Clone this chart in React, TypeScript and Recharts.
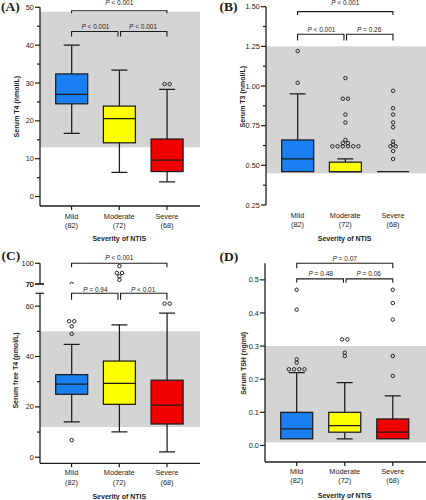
import React from 'react';
import { ComposedChart, Bar, XAxis, YAxis, ReferenceArea, ReferenceLine } from 'recharts';

const FONT = '"Liberation Sans", Arial, Helvetica, sans-serif';
const SERIF = '"Liberation Serif", "Times New Roman", serif';
const INK = '#1c1c1c';
const BAND = '#d4d4d4';

// ---- shared categories ----
const categories = ['Mild', 'Moderate', 'Severe'];
const groupSizes = ['(82)', '(72)', '(68)'];
const boxFills = ['#1a7ff2', '#ffff00', '#f20000'];

// ---- (A) Serum T4 (nmol/L) ----
const t4Low = [16.7, 6.4, 3.9];
const t4Q1 = [24.5, 14.2, 6.6];
const t4Median = [27.0, 20.6, 9.6];
const t4Q3 = [32.4, 23.9, 15.2];
const t4High = [40.0, 33.4, 28.3];
const t4Outliers = [[], [], [29.7, 29.7]];
const t4Band = [13, 48.8];
const t4Major = [0, 10, 20, 30, 40, 50];
const t4Minor = [5, 15, 25, 35, 45];

// ---- (B) Serum T3 (nmol/L) ----
const t3Low = [0.46, 0.46, 0.46];
const t3Q1 = [0.46, 0.46, 0.46];
const t3Median = [0.54, 0.46, 0.46];
const t3Q3 = [0.66, 0.52, 0.46];
const t3High = [0.95, 0.54, 0.46];
const t3Outliers = [
  [1.02, 1.22],
  [0.62, 0.62, 0.62, 0.62, 0.62, 0.62, 0.64, 0.64, 0.66, 0.77, 0.82, 0.92, 0.92, 1.05],
  [0.54, 0.59, 0.62, 0.62, 0.63, 0.65, 0.74, 0.77, 0.82, 0.86, 0.97],
];
const t3Band = [0.45, 1.25];
const t3Major = [0.25, 0.5, 0.75, 1.0, 1.25, 1.5];
const t3Minor = [0.375, 0.625, 0.875, 1.125, 1.375];

// ---- (C) Serum free T4 (pmol/L) ----
const ft4Low = [14.0, 10.1, 2.1];
const ft4Q1 = [25.0, 21.0, 13.2];
const ft4Median = [29.0, 29.3, 20.7];
const ft4Q3 = [32.8, 38.2, 30.6];
const ft4High = [44.8, 52.6, 57.2];
const ft4Outliers = [[6.8, 49, 52, 54, 54, 70], [76, 81, 86, 86, 96], [61, 61]];
const ft4Band = [12, 50];
const ft4MajorLow = [0, 20, 40, 60];
const ft4MinorLow = [10, 30, 50];
const ft4MajorHigh = [70, 100];
const ft4Break = 65.1;

// ---- (D) Serum TSH (ng/ml) ----
const tshLow = [0.02, 0.02, 0.02];
const tshQ1 = [0.02, 0.04, 0.02];
const tshMedian = [0.05, 0.06, 0.04];
const tshQ3 = [0.1, 0.1, 0.08];
const tshHigh = [0.22, 0.19, 0.15];
const tshOutliers = [
  [0.23, 0.23, 0.23, 0.23, 0.25, 0.26, 0.41, 0.47],
  [0.27, 0.28, 0.32, 0.32],
  [0.21, 0.27, 0.38, 0.43, 0.47],
];
const tshBand = [0.01, 0.3];
const tshMajor = [0, 0.1, 0.2, 0.3, 0.4, 0.5];

// ---- significance brackets: [from, to, level, text] ----
const t4Brackets = [
  ['Mild', 'Severe', 49.1, ' < 0.001'],
  ['Mild', 'Moderate', 43.6, ' < 0.001'],
  ['Moderate', 'Severe', 43.6, ' < 0.001'],
];
const t3Brackets = [
  ['Mild', 'Severe', 1.469, ' < 0.001'],
  ['Mild', 'Moderate', 1.326, ' < 0.001'],
  ['Moderate', 'Severe', 1.326, ' = 0.26'],
];
const ft4BracketsHigh = [['Mild', 'Severe', 100, ' < 0.001']];
const ft4BracketsLow = [
  ['Mild', 'Moderate', 65.1, ' = 0.94'],
  ['Moderate', 'Severe', 65.1, ' < 0.01'],
];
const tshBrackets = [
  ['Mild', 'Severe', 0.55, ' = 0.07'],
  ['Mild', 'Moderate', 0.503, ' = 0.48'],
  ['Moderate', 'Severe', 0.503, ' = 0.06'],
];

type Row = {
  name: string;
  frame: [number, number];
  fill: string;
  hasBox: boolean;
  low: number;
  q1: number;
  median: number;
  q3: number;
  high: number;
  outliers: number[];
};

function buildRows(
  low: number[], q1: number[], median: number[], q3: number[], high: number[],
  outliers: number[][], domain: [number, number], hasBox: boolean,
): Row[] {
  return categories.map((name, i) => ({
    name,
    frame: domain,
    fill: boxFills[i],
    hasBox,
    low: low[i],
    q1: q1[i],
    median: median[i],
    q3: q3[i],
    high: high[i],
    outliers: outliers[i].filter((v) => v >= domain[0] && v <= domain[1]),
  }));
}

const SPACING = 5.2;
const SW = 1.25;

function BoxShape(props: any) {
  const { x, y, width, height, payload } = props;
  if (!payload || !Number.isFinite(y) || !Number.isFinite(height)) return null;
  const [lo, hi] = payload.frame;
  const py = (v: number) => y + ((hi - v) / (hi - lo)) * height;
  const cx = x + width / 2;
  const cap = width / 4;
  const parts: any[] = [];
  if (payload.hasBox) {
    if (payload.high > payload.q3) {
      parts.push(<line key="wh" x1={cx} x2={cx} y1={py(payload.q3)} y2={py(payload.high)} stroke={INK} strokeWidth={SW} />);
      parts.push(<line key="ch" x1={cx - cap} x2={cx + cap} y1={py(payload.high)} y2={py(payload.high)} stroke={INK} strokeWidth={SW} />);
    }
    if (payload.low < payload.q1) {
      parts.push(<line key="wl" x1={cx} x2={cx} y1={py(payload.q1)} y2={py(payload.low)} stroke={INK} strokeWidth={SW} />);
      parts.push(<line key="cl" x1={cx - cap} x2={cx + cap} y1={py(payload.low)} y2={py(payload.low)} stroke={INK} strokeWidth={SW} />);
    }
    if (payload.q3 > payload.q1) {
      parts.push(
        <rect key="box" x={x} y={py(payload.q3)} width={width} height={py(payload.q1) - py(payload.q3)}
          fill={payload.fill} stroke={INK} strokeWidth={SW} />,
      );
    }
    parts.push(<line key="med" x1={x} x2={x + width} y1={py(payload.median)} y2={py(payload.median)} stroke={INK} strokeWidth={SW} />);
  }
  const counts = new Map<number, number>();
  (payload.outliers as number[]).forEach((v) => counts.set(v, (counts.get(v) || 0) + 1));
  Array.from(counts.entries()).forEach(([v, n]) => {
    for (let i = 0; i < n; i++) {
      const off = (i - (n - 1) / 2) * SPACING;
      parts.push(<circle key={`o${v}-${i}`} cx={cx + off} cy={py(v)} r={1.75} fill="none" stroke={INK} strokeWidth={0.95} />);
    }
  });
  return <g>{parts}</g>;
}

function makeBracket(text: string, drop: number, gap: number, insetL: number, insetR: number) {
  return (p: any) => {
    const { x1, y1, x2 } = p;
    if (!Number.isFinite(x1) || !Number.isFinite(y1)) return <g />;
    const a = x1 + insetL;
    const b = x2 - insetR;
    return (
      <g>
        <path d={`M${a},${y1 + drop}V${y1}H${b}V${y1 + drop}`} fill="none" stroke={INK} strokeWidth={1.1} />
        <text x={(x1 + x2) / 2} y={y1 - gap} textAnchor="middle" fontSize={6.5} fontFamily={FONT} fill={INK}>
          <tspan fontStyle="italic">P</tspan>
          {text}
        </text>
      </g>
    );
  };
}

function makeYTick(major: number[], fmt: (v: number) => string, caps: number[]) {
  return (props: any) => {
    const { x, y, payload } = props;
    const v = payload.value as number;
    const isMajor = major.some((m) => Math.abs(m - v) < 1e-9);
    const isCap = caps.some((m) => Math.abs(m - v) < 1e-9);
    const len = isMajor ? 5 : isCap ? 4.5 : 3;
    return (
      <g>
        <line x1={x - len} x2={isCap ? x + 4 : x} y1={y} y2={y} stroke={INK} strokeWidth={1.2} />
        {isMajor && (
          <text x={x - len - 1.2} y={y} dy="0.35em" textAnchor="end" fontSize={7.3} fontFamily={FONT} fill={INK}>
            {fmt(v)}
          </text>
        )}
      </g>
    );
  };
}

function makeXTick(dy1: number, dy2: number) {
  return (props: any) => {
    const { x, y, payload } = props;
    const idx = categories.indexOf(payload.value);
    return (
      <text x={x} y={y} textAnchor="middle" fontSize={7.3} fontFamily={FONT} fill={INK}>
        <tspan x={x} dy={dy1}>{payload.value}</tspan>
        <tspan x={x} dy={dy2 - dy1}>{groupSizes[idx]}</tspan>
      </text>
    );
  };
}

type PanelProps = {
  left: number; top: number; width: number; height: number;
  margin: { top: number; right: number; bottom: number; left: number };
  yWidth: number; xHeight: number;
  domain: [number, number];
  major: number[]; minor: number[]; caps?: number[];
  fmt: (v: number) => string;
  rows: Row[];
  band?: number[];
  brackets: any[][];
  drops: [number, number]; gaps: [number, number];
  xMode: 'line' | 'labels' | 'hidden';
  xDy: [number, number];
};

function BoxPanel(p: PanelProps) {
  const caps = p.caps || [];
  const ticks = [...p.major, ...p.minor, ...caps].sort((a, b) => a - b);
  return (
    <div style={{ position: 'absolute', left: p.left, top: p.top, width: p.width, height: p.height }}>
      <ComposedChart width={p.width} height={p.height} data={p.rows} margin={p.margin}>
        <XAxis
          dataKey="name"
          type="category"
          padding={{ left: 7.7, right: 9.2 }}
          hide={p.xMode === 'hidden'}
          height={p.xHeight}
          interval={0}
          tickSize={4}
          tickMargin={0}
          axisLine={p.xMode === 'line' ? { stroke: INK, strokeWidth: 1.3 } : false}
          tickLine={p.xMode === 'line' ? { stroke: INK, strokeWidth: 1.2 } : false}
          tick={makeXTick(p.xDy[0], p.xDy[1])}
        />
        <XAxis xAxisId="full" type="number" domain={[0, 1]} hide allowDataOverflow />
        <YAxis
          type="number"
          domain={p.domain}
          ticks={ticks}
          interval={0}
          width={p.yWidth}
          tickSize={0}
          tickMargin={0}
          tickLine={false}
          axisLine={{ stroke: INK, strokeWidth: 1.3 }}
          tick={makeYTick(p.major, p.fmt, caps)}
          allowDataOverflow
        />
        {p.band && (
          <ReferenceArea xAxisId="full" y1={p.band[0]} y2={p.band[1]}
            fill={BAND} fillOpacity={1} stroke="none" ifOverflow="visible" />
        )}
        <Bar dataKey="frame" barSize={32} shape={BoxShape} isAnimationActive={false} />
        {p.brackets.map((b, i) => {
          const [from, to, level, text] = b;
          const isTop = from === 'Mild' && to === 'Severe';
          const drop = isTop ? p.drops[0] : p.drops[1];
          const gap = isTop ? p.gaps[0] : p.gaps[1];
          const insetL = from === 'Moderate' ? 1.3 : 0;
          const insetR = to === 'Moderate' ? 1.3 : 0;
          return (
            <ReferenceLine
              key={i}
              segment={[{ x: from, y: level }, { x: to, y: level }]}
              ifOverflow="visible"
              shape={makeBracket(text, drop, gap, insetL, insetR)}
            />
          );
        })}
      </ComposedChart>
    </div>
  );
}

const domA: [number, number] = [-2.5, 50];
const domB: [number, number] = [0.25, 1.5];
const domCHigh: [number, number] = [70, 100];
const domCLow: [number, number] = [-2.4, ft4Break];
const domD: [number, number] = [-0.05, 0.55];

const rowsA = buildRows(t4Low, t4Q1, t4Median, t4Q3, t4High, t4Outliers, domA, true);
const rowsB = buildRows(t3Low, t3Q1, t3Median, t3Q3, t3High, t3Outliers, domB, true);
const rowsCHigh = buildRows(ft4Low, ft4Q1, ft4Median, ft4Q3, ft4High, ft4Outliers, domCHigh, false);
const rowsCLow = buildRows(ft4Low, ft4Q1, ft4Median, ft4Q3, ft4High, ft4Outliers, domCLow, true);
const rowsD = buildRows(tshLow, tshQ1, tshMedian, tshQ3, tshHigh, tshOutliers, domD, true);

function Title({ x, y, text, rotate }: { x: number; y: number; text: string; rotate?: boolean }) {
  return (
    <text
      x={x}
      y={y}
      textAnchor="middle"
      dominantBaseline="central"
      fontSize={7}
      fontWeight="bold"
      fontFamily={FONT}
      fill={INK}
      transform={rotate ? `rotate(-90 ${x} ${y})` : undefined}
    >
      {text}
    </text>
  );
}

export default function App() {
  return (
    <div style={{ position: 'absolute', left: 0, top: 0, width: 426, height: 500, background: '#fff', overflow: 'hidden' }}>
      <BoxPanel
        left={0} top={0} width={213} height={250}
        margin={{ top: 7.3, right: 13, bottom: 14, left: 0 }}
        yWidth={40} xHeight={30}
        domain={domA} major={t4Major} minor={t4Minor} fmt={(v) => String(v)}
        rows={rowsA} band={t4Band} brackets={t4Brackets}
        drops={[2.5, 5]} gaps={[5.8, 2.7]} xMode="line" xDy={[8.6, 18.2]}
      />
      <BoxPanel
        left={213} top={0} width={213} height={250}
        margin={{ top: 6.7, right: 0, bottom: 15, left: 0 }}
        yWidth={53} xHeight={30}
        domain={domB} major={t3Major} minor={t3Minor} fmt={(v) => v.toFixed(2)}
        rows={rowsB} band={t3Band} brackets={t3Brackets}
        drops={[3.3, 6.3]} gaps={[6.5, 2]} xMode="labels" xDy={[8.6, 17.6]}
      />
      <BoxPanel
        left={0} top={250} width={213} height={44}
        margin={{ top: 13.3, right: 13, bottom: 10, left: 0 }}
        yWidth={40} xHeight={0}
        domain={domCHigh} major={ft4MajorHigh} minor={[]} caps={[70]} fmt={(v) => String(v)}
        rows={rowsCHigh} brackets={ft4BracketsHigh}
        drops={[4, 6]} gaps={[3.7, 1.5]} xMode="hidden" xDy={[8, 17.7]}
      />
      <BoxPanel
        left={0} top={282} width={213} height={218}
        margin={{ top: 11.3, right: 13, bottom: 6.7, left: 0 }}
        yWidth={40} xHeight={30}
        domain={domCLow} major={ft4MajorLow} minor={ft4MinorLow} caps={[ft4Break]} fmt={(v) => String(v)}
        rows={rowsCLow} band={ft4Band} brackets={ft4BracketsLow}
        drops={[4, 6.5]} gaps={[3.7, 1.5]} xMode="line" xDy={[8, 17.7]}
      />
      <BoxPanel
        left={213} top={250} width={213} height={250}
        margin={{ top: 13.3, right: 0, bottom: 8, left: 0 }}
        yWidth={52} xHeight={30}
        domain={domD} major={tshMajor} minor={[]} fmt={(v) => v.toFixed(1)}
        rows={rowsD} band={tshBand} brackets={tshBrackets}
        drops={[5, 4]} gaps={[2.7, 3]} xMode="line" xDy={[7.6, 16.8]}
      />
      <svg width={426} height={500} style={{ position: 'absolute', left: 0, top: 0, pointerEvents: 'none' }}>
        <text x={1} y={10.5} fontSize={13.5} fontWeight="bold" fontFamily={SERIF} fill={INK}>(A)</text>
        <text x={219.5} y={10.5} fontSize={13.5} fontWeight="bold" fontFamily={SERIF} fill={INK}>(B)</text>
        <text x={1.5} y={259.5} fontSize={13.5} fontWeight="bold" fontFamily={SERIF} fill={INK}>(C)</text>
        <text x={219.5} y={260.5} fontSize={13.5} fontWeight="bold" fontFamily={SERIF} fill={INK}>(D)</text>
        <Title x={16.7} y={106.7} text="Serum T4 (nmol/L)" rotate />
        <Title x={243} y={96.7} text="Serum T3 (nmol/L)" rotate />
        <Title x={15} y={370.5} text="Serum free T4 (pmol/L)" rotate />
        <Title x={243.7} y={363.3} text="Serum TSH (ng/ml)" rotate />
        <Title x={119.3} y={238.3} text="Severity of NTIS" />
        <Title x={344.6} y={238.3} text="Severity of NTIS" />
        <Title x={119.3} y={496} text="Severity of NTIS" />
        <Title x={344.6} y={495} text="Severity of NTIS" />
      </svg>
    </div>
  );
}
